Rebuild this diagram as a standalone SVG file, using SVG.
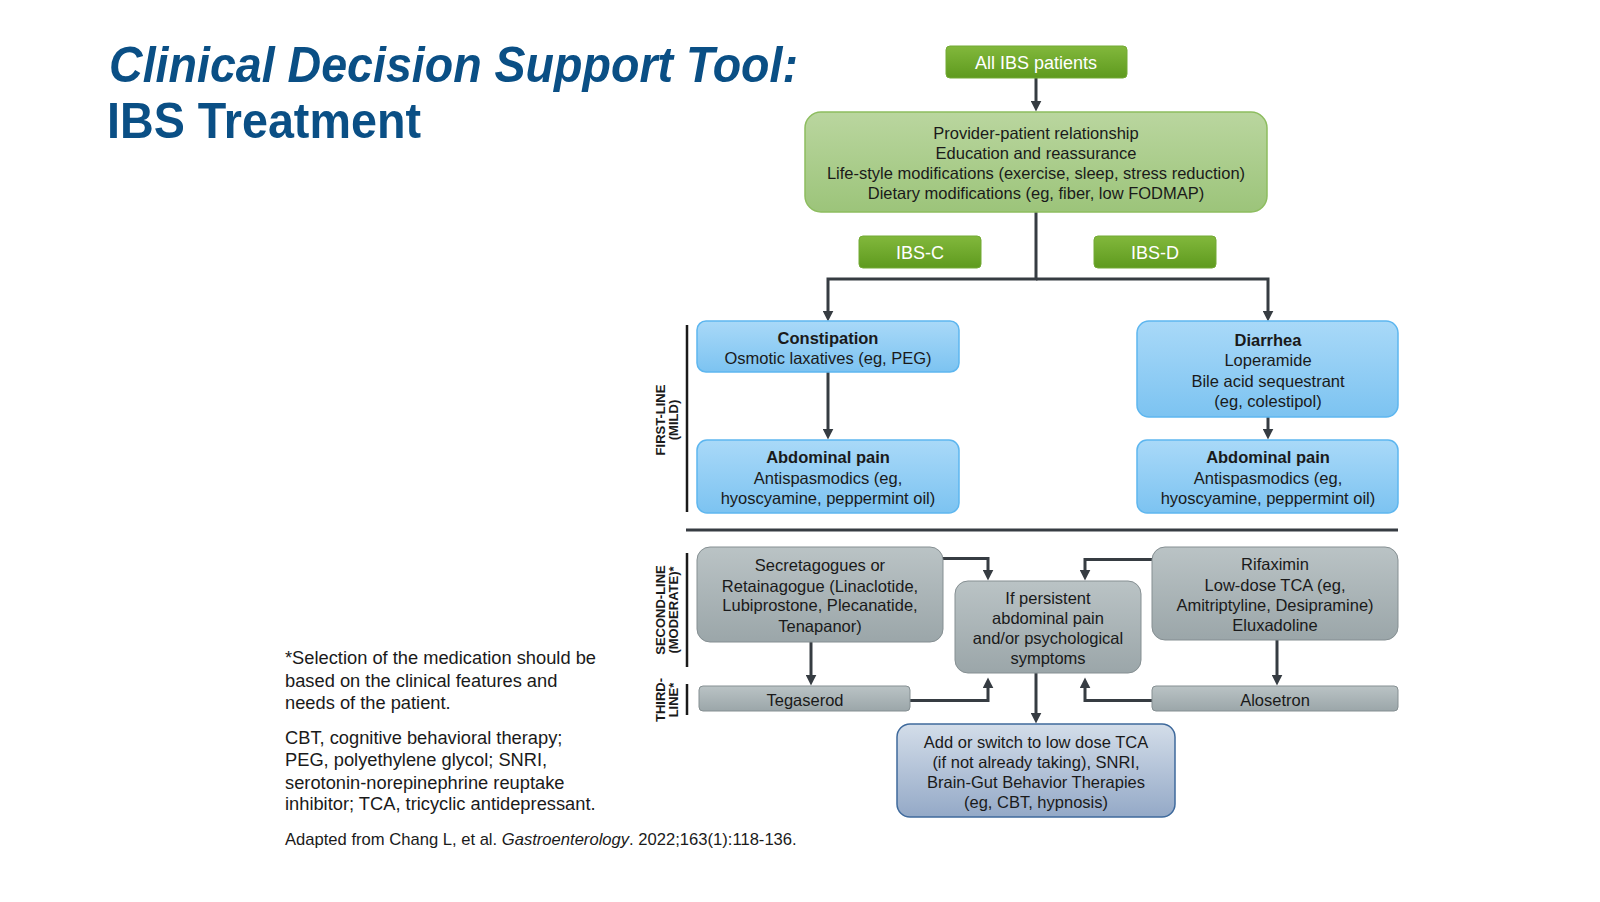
<svg xmlns="http://www.w3.org/2000/svg" width="1600" height="902" viewBox="0 0 1600 902">
<defs>
<linearGradient id="gDark" x1="0" y1="0" x2="0" y2="1"><stop offset="0" stop-color="#82b83c"/><stop offset="1" stop-color="#5e9a1e"/></linearGradient>
<linearGradient id="gLight" x1="0" y1="0" x2="0" y2="1"><stop offset="0" stop-color="#bad69f"/><stop offset="1" stop-color="#9cc47a"/></linearGradient>
<linearGradient id="gBlue" x1="0" y1="0" x2="0" y2="1"><stop offset="0" stop-color="#a9d9f8"/><stop offset="1" stop-color="#7cc3f1"/></linearGradient>
<linearGradient id="gGray" x1="0" y1="0" x2="0" y2="1"><stop offset="0" stop-color="#bac3c5"/><stop offset="1" stop-color="#9ba6a9"/></linearGradient>
<linearGradient id="gSlate" x1="0" y1="0" x2="0" y2="1"><stop offset="0" stop-color="#d3dde9"/><stop offset="1" stop-color="#94a9c7"/></linearGradient>
<marker id="arr" viewBox="0 0 10 10" refX="4" refY="5" markerWidth="11" markerHeight="11" markerUnits="userSpaceOnUse" orient="auto"><path d="M0,0 L10,5 L0,10 z" fill="#363c42"/></marker>
<style>
.t{font-family:"Liberation Sans",Arial,sans-serif;font-size:16.5px;fill:#1a1a1a;text-anchor:middle}
.b{font-weight:bold}
.w{font-family:"Liberation Sans",Arial,sans-serif;font-size:18px;fill:#ffffff;text-anchor:middle}
.side{font-family:"Liberation Sans",Arial,sans-serif;font-size:13px;font-weight:bold;fill:#1a1a1a;text-anchor:middle}
.note{font-family:"Liberation Sans",Arial,sans-serif;font-size:18.3px;fill:#1a1a1a}
.foot{font-family:"Liberation Sans",Arial,sans-serif;font-size:16.6px;fill:#1a1a1a}
.title{font-family:"Liberation Sans",Arial,sans-serif;font-size:50px;font-weight:bold;fill:#0a4f85}
.dk{fill:url(#gDark);stroke:#73aa34;stroke-width:1}
.lt{fill:url(#gLight);stroke:#8dbd5f;stroke-width:1.5}
.bl{fill:url(#gBlue);stroke:#5db6ef;stroke-width:1.5}
.gr{fill:url(#gGray);stroke:#858f92;stroke-width:1}
.sl{fill:url(#gSlate);stroke:#3f6a9c;stroke-width:1.5}
.c{fill:none;stroke:#363c42;stroke-width:3;marker-end:url(#arr)}
.rule{stroke:#363c42;stroke-width:3;fill:none}
.bar{stroke:#1a1a1a;stroke-width:2.5;fill:none}
</style>
</defs>
<rect width="1600" height="902" fill="#ffffff"/>

<g id="title">
<text class="title" x="109" y="82" font-style="italic" textLength="689" lengthAdjust="spacingAndGlyphs">Clinical Decision Support Tool:</text>
<text class="title" x="107" y="138" textLength="314" lengthAdjust="spacingAndGlyphs">IBS Treatment</text>
</g>

<g id="notes">
<text class="note" x="285" y="664">*Selection of the medication should be</text>
<text class="note" x="285" y="687">based on the clinical features and</text>
<text class="note" x="285" y="709">needs of the patient.</text>
<text class="note" x="285" y="744">CBT, cognitive behavioral therapy;</text>
<text class="note" x="285" y="766">PEG, polyethylene glycol; SNRI,</text>
<text class="note" x="285" y="789">serotonin-norepinephrine reuptake</text>
<text class="note" x="285" y="810">inhibitor; TCA, tricyclic antidepressant.</text>
<text class="foot" x="285" y="845">Adapted from Chang L, et al. <tspan font-style="italic">Gastroenterology</tspan>. 2022;163(1):118-136.</text>
</g>

<g id="side-labels">
<path class="bar" d="M687,325 V512 M687,553 V667 M687,684 V715"/>
<text class="side" transform="translate(665,420) rotate(-90)"><tspan x="0" y="0">FIRST-LINE</tspan><tspan x="0" y="13">(MILD)</tspan></text>
<text class="side" transform="translate(665,610) rotate(-90)"><tspan x="0" y="0">SECOND-LINE</tspan><tspan x="0" y="13">(MODERATE)*</tspan></text>
<text class="side" transform="translate(665,700) rotate(-90)"><tspan x="0" y="0">THIRD-</tspan><tspan x="0" y="13">LINE*</tspan></text>
</g>

<g id="connectors">
<path class="c" d="M1036,78 V105"/>
<path class="c" d="M1036,212 V279 H828 V315"/>
<path class="c" d="M1036,279 H1268 V315"/>
<path class="c" d="M828,372 V433"/>
<path class="c" d="M1268,417 V433"/>
<path class="rule" d="M686,530 H1398"/>
<path class="c" d="M943,558.5 H988 V574"/>
<path class="c" d="M811,642 V679"/>
<path class="c" d="M910,700.5 H988 V684"/>
<path class="c" d="M1152,559.5 H1085 V574"/>
<path class="c" d="M1277,640 V679"/>
<path class="c" d="M1152,700.5 H1085 V684"/>
<path class="c" d="M1036,673 V717"/>
</g>

<g id="all-ibs">
<rect class="dk" x="946" y="46" width="181" height="32" rx="4"/>
<text class="w" x="1036" y="69">All IBS patients</text>
</g>

<g id="general">
<rect class="lt" x="805" y="112" width="462" height="100" rx="16"/>
<text class="t" x="1036" y="139">Provider-patient relationship</text>
<text class="t" x="1036" y="159">Education and reassurance</text>
<text class="t" x="1036" y="178.5">Life-style modifications (exercise, sleep, stress reduction)</text>
<text class="t" x="1036" y="198.5">Dietary modifications (eg, fiber, low FODMAP)</text>
</g>

<g id="ibs-c">
<rect class="dk" x="859" y="236" width="122" height="32" rx="4"/>
<text class="w" x="920" y="258.5">IBS-C</text>
</g>

<g id="ibs-d">
<rect class="dk" x="1094" y="236" width="122" height="32" rx="4"/>
<text class="w" x="1155" y="258.5">IBS-D</text>
</g>

<g id="constipation">
<rect class="bl" x="697" y="321" width="262" height="51" rx="9"/>
<text class="t b" x="828" y="343.5">Constipation</text>
<text class="t" x="828" y="364">Osmotic laxatives (eg, PEG)</text>
</g>

<g id="abd-pain-c">
<rect class="bl" x="697" y="440" width="262" height="73" rx="10"/>
<text class="t b" x="828" y="463">Abdominal pain</text>
<text class="t" x="828" y="483.5">Antispasmodics (eg,</text>
<text class="t" x="828" y="504">hyoscyamine, peppermint oil)</text>
</g>

<g id="diarrhea">
<rect class="bl" x="1137" y="321" width="261" height="96" rx="12"/>
<text class="t b" x="1268" y="346">Diarrhea</text>
<text class="t" x="1268" y="366">Loperamide</text>
<text class="t" x="1268" y="386.5">Bile acid sequestrant</text>
<text class="t" x="1268" y="407">(eg, colestipol)</text>
</g>

<g id="abd-pain-d">
<rect class="bl" x="1137" y="440" width="261" height="73" rx="10"/>
<text class="t b" x="1268" y="463">Abdominal pain</text>
<text class="t" x="1268" y="483.5">Antispasmodics (eg,</text>
<text class="t" x="1268" y="504">hyoscyamine, peppermint oil)</text>
</g>

<g id="secretagogues">
<rect class="gr" x="697" y="547" width="246" height="95" rx="13"/>
<text class="t" x="820" y="571">Secretagogues or</text>
<text class="t" x="820" y="591.5">Retainagogue (Linaclotide,</text>
<text class="t" x="820" y="611">Lubiprostone, Plecanatide,</text>
<text class="t" x="820" y="631.5">Tenapanor)</text>
</g>

<g id="tegaserod">
<rect class="gr" x="699" y="686" width="211" height="25" rx="4"/>
<text class="t" x="805" y="705.5">Tegaserod</text>
</g>

<g id="persistent">
<rect class="gr" x="955" y="581" width="186" height="92" rx="13"/>
<text class="t" x="1048" y="604">If persistent</text>
<text class="t" x="1048" y="624">abdominal pain</text>
<text class="t" x="1048" y="644">and/or psychological</text>
<text class="t" x="1048" y="664">symptoms</text>
</g>

<g id="rifaximin">
<rect class="gr" x="1152" y="547" width="246" height="93" rx="13"/>
<text class="t" x="1275" y="570">Rifaximin</text>
<text class="t" x="1275" y="590.5">Low-dose TCA (eg,</text>
<text class="t" x="1275" y="611">Amitriptyline, Desipramine)</text>
<text class="t" x="1275" y="631">Eluxadoline</text>
</g>

<g id="alosetron">
<rect class="gr" x="1152" y="686" width="246" height="25" rx="4"/>
<text class="t" x="1275" y="705.5">Alosetron</text>
</g>

<g id="tca-snri">
<rect class="sl" x="897" y="724" width="278" height="93" rx="13"/>
<text class="t" x="1036" y="747.5">Add or switch to low dose TCA</text>
<text class="t" x="1036" y="768">(if not already taking), SNRI,</text>
<text class="t" x="1036" y="788">Brain-Gut Behavior Therapies</text>
<text class="t" x="1036" y="808">(eg, CBT, hypnosis)</text>
</g>
</svg>
